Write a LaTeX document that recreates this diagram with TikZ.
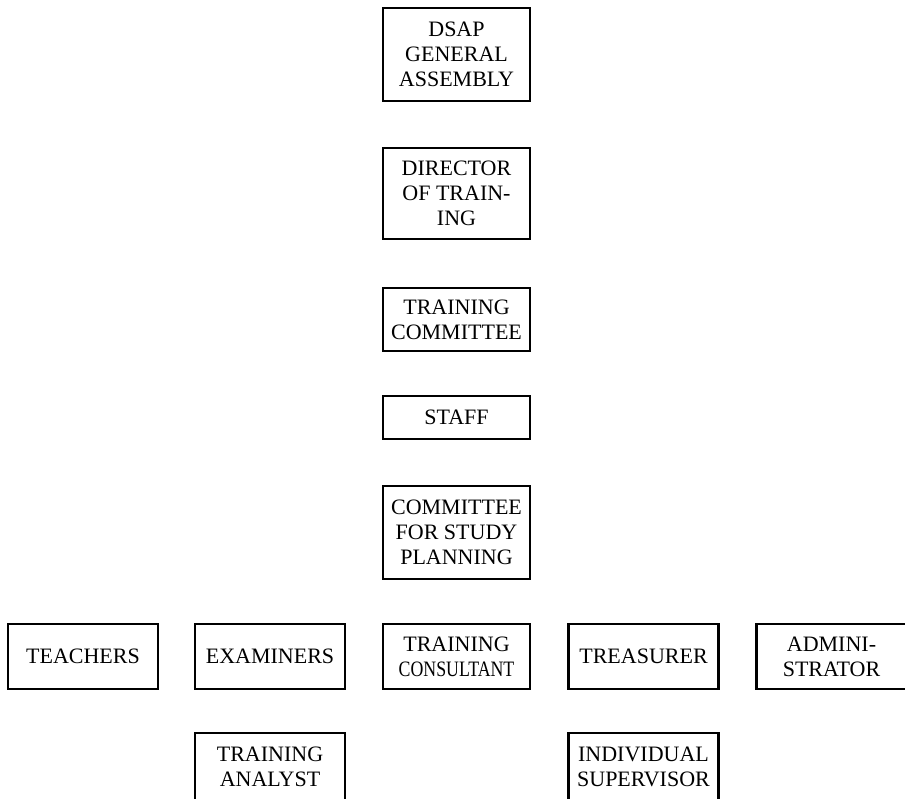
\documentclass[tikz,border=0pt]{standalone}
\usepackage{fontspec}
\setmainfont{Liberation Serif}
\usepackage{graphicx}
\begin{document}
\begin{tikzpicture}[x=1pt,y=-1pt,
  orgbox/.style={draw=black, line width=2.4pt, fill=white, rectangle, align=center,
    inner sep=0pt, minimum width=147pt,
    font=\fontsize{22}{25}\selectfont},
  widebox/.style={orgbox, minimum width=150pt}]
\useasboundingbox (0,0) rectangle (905,798);
\clip (0,0) rectangle (905,798);
\fill[white] (0,0) rectangle (905,798);
\node[orgbox, minimum height=93pt] (dsap) at (456.5,54.5) {DSAP\\GENERAL\\ASSEMBLY};
\node[orgbox, minimum height=91pt] (dir) at (456.5,193.5) {DIRECTOR\\OF TRAIN-\\ING};
\node[orgbox, minimum height=63pt] (tc) at (456.5,319.5) {TRAINING\\COMMITTEE};
\node[orgbox, minimum height=43pt] (staff) at (456.5,417.5) {STAFF};
\node[orgbox, minimum height=93pt] (csp) at (456.5,532.5) {COMMITTEE\\FOR STUDY\\PLANNING};
\node[widebox, minimum height=65pt] (teach) at (83,656.5) {TEACHERS};
\node[widebox, minimum height=65pt] (exam) at (270,656.5) {EXAMINERS};
\node[orgbox, minimum height=65pt] (cons) at (456.5,656.5) {TRAINING\\\scalebox{0.81}[1]{CONSULTANT}};
\node[widebox, minimum height=65pt] (treas) at (643.5,656.5) {TREASURER};
\node[widebox, minimum height=65pt] (admin) at (831.5,656.5) {ADMINI-\\STRATOR};
\node[widebox, minimum height=67pt] (analyst) at (270,766.5) {TRAINING\\ANALYST};
\node[widebox, minimum height=67pt] (super) at (643.5,766.5) {INDIVIDUAL\\SUPERVISOR};
\end{tikzpicture}
\end{document}
